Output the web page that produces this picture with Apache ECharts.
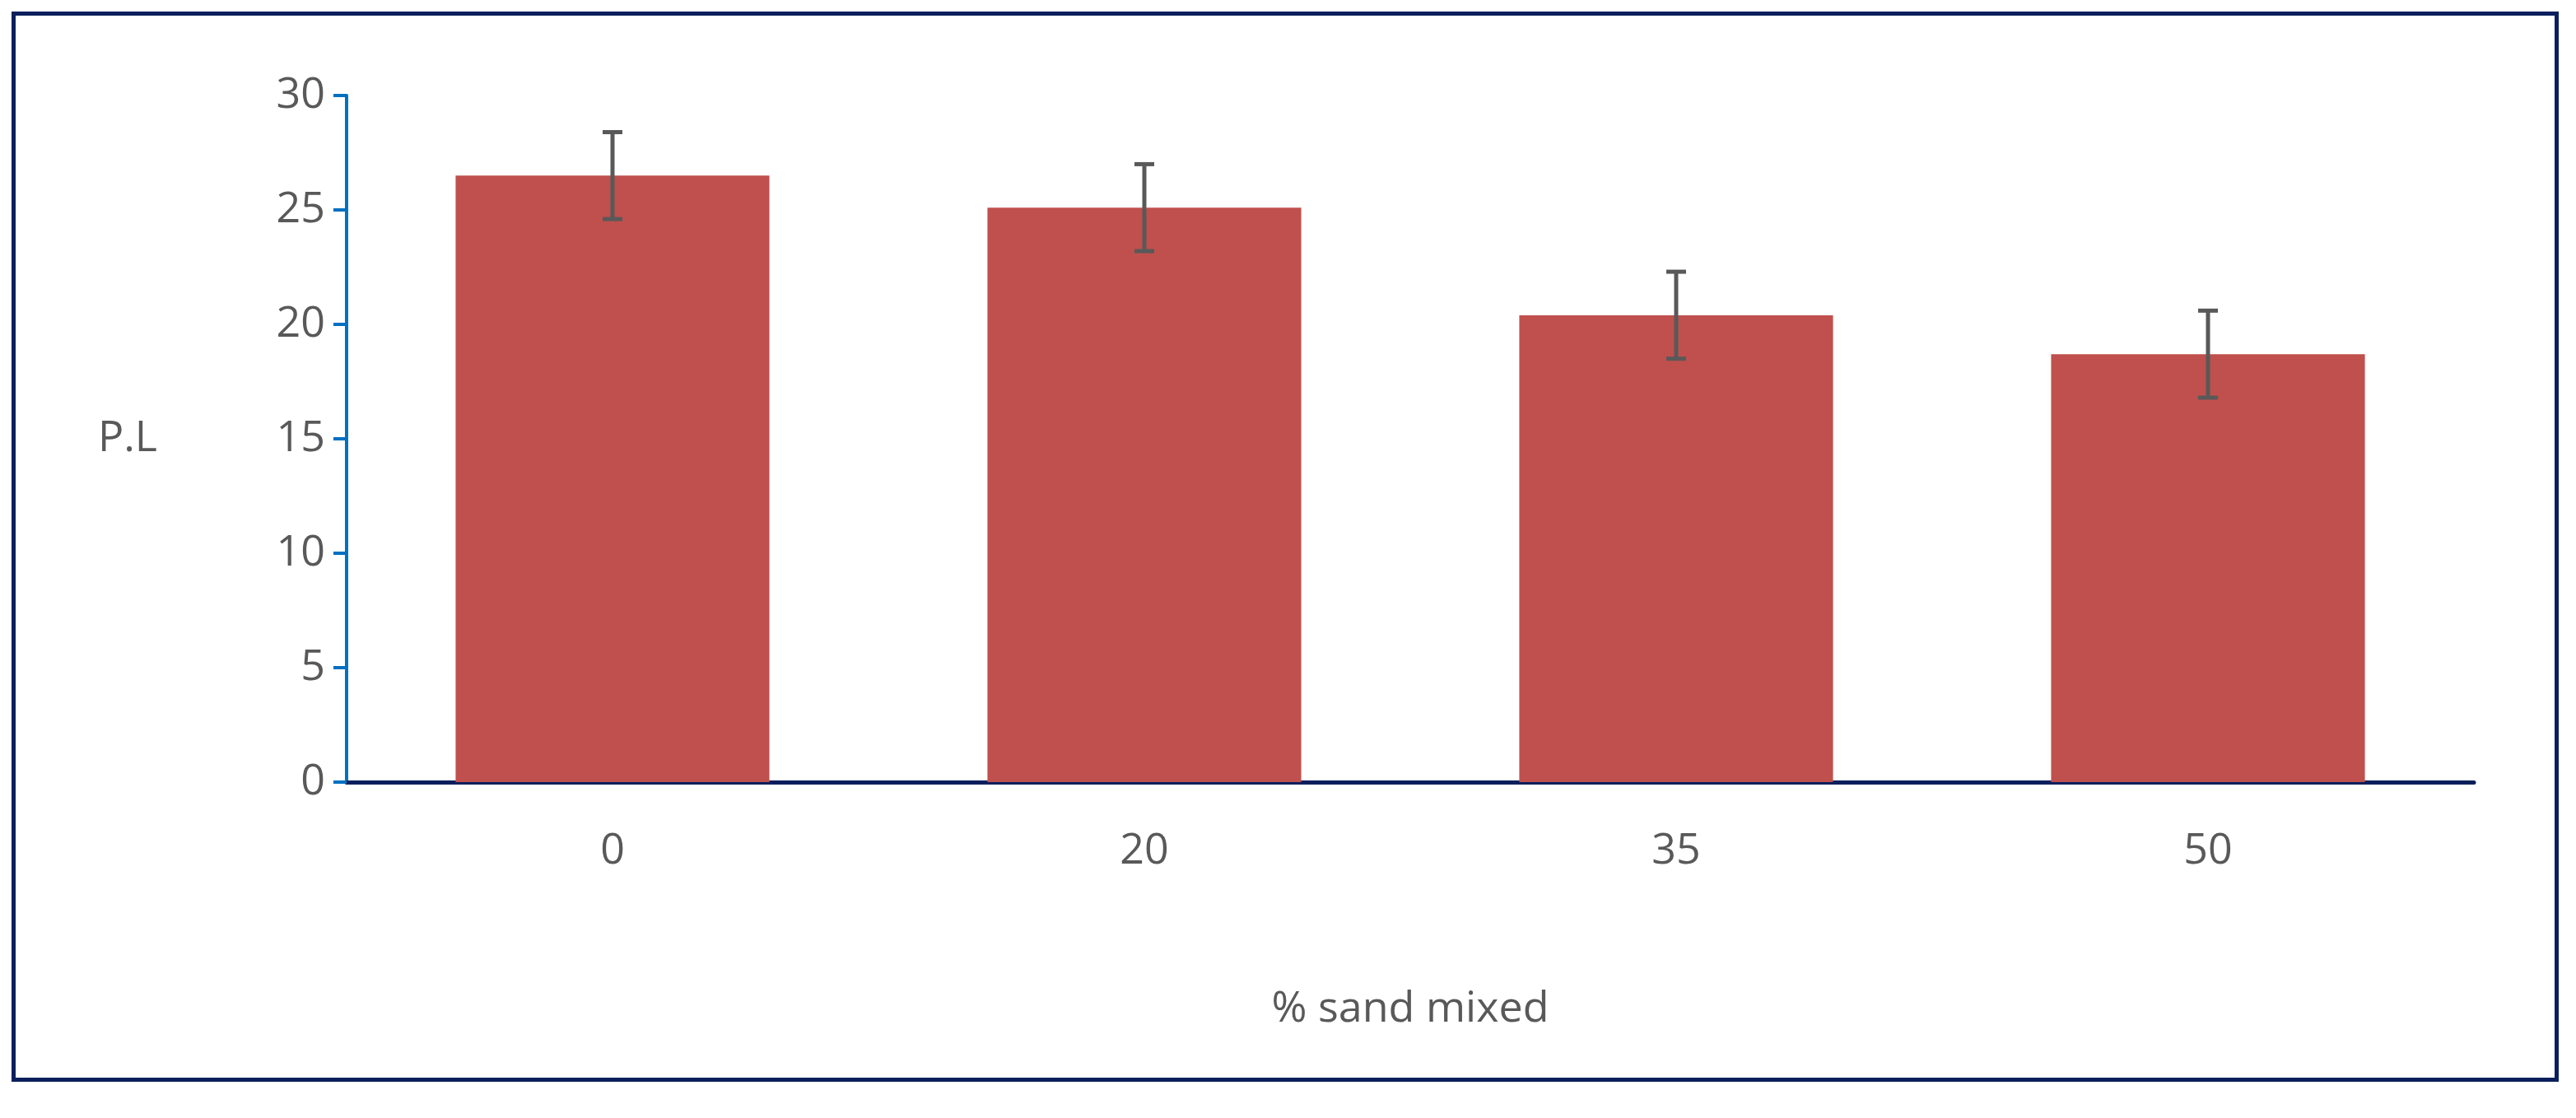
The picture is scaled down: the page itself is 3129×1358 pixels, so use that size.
<!DOCTYPE html>
<html>
<head>
<meta charset="utf-8">
<script src="https://cdn.jsdelivr.net/npm/echarts@6/dist/echarts.min.js"></script>
<style>
html,body{margin:0;padding:0;background:#fff;}
#frame{position:absolute;left:14px;top:14px;width:3094px;height:1300px;border:5px solid #0b1f5c;box-sizing:border-box;}
#chart{width:3129px;height:1358px;}
</style>
</head>
<body>
<div id="chart"></div>
<div id="frame"></div>
<script>
var categories = ['0', '20', '35', '50'];
var values = [26.5, 25.1, 20.4, 18.7];
var errLow = [24.6, 23.2, 18.5, 16.8];
var errHigh = [28.4, 27.0, 22.3, 20.6];

var chart = echarts.init(document.getElementById('chart'));
var font = '"Open Sans", "Liberation Sans", sans-serif';

var option = {
    animation: false,
    grid: { left: 421, right: 124, top: 116, bottom: 408 },
    xAxis: {
        type: 'category',
        data: categories,
        name: '% sand mixed',
        nameLocation: 'middle',
        nameGap: 250,
        nameTextStyle: { fontSize: 52, color: '#595959', fontFamily: font },
        axisLine: { lineStyle: { color: '#0b1f5c', width: 5 } },
        axisTick: { show: false },
        axisLabel: { fontSize: 52, color: '#595959', fontFamily: font, margin: 58 }
    },
    yAxis: {
        type: 'value',
        min: 0, max: 30, interval: 5,
        name: 'P.L',
        nameLocation: 'middle',
        nameRotate: 0,
        nameGap: 230,
        nameTextStyle: { fontSize: 52, color: '#595959', fontFamily: font },
        axisLine: { show: true, lineStyle: { color: '#0070c0', width: 4 } },
        axisTick: { show: true, length: 16, lineStyle: { color: '#0070c0', width: 4 } },
        splitLine: { show: false },
        axisLabel: { fontSize: 52, color: '#595959', fontFamily: font, margin: 26 }
    },
    series: [{
        type: 'bar',
        data: values,
        barWidth: '59%',
        itemStyle: { color: '#c0504d' }
    }, {
        type: 'custom',
        data: categories.map(function (c, i) { return [i, errLow[i], errHigh[i]]; }),
        z: 10,
        renderItem: function (params, api) {
            var lo = api.coord([api.value(0), api.value(1)]);
            var hi = api.coord([api.value(0), api.value(2)]);
            var w = 12;
            var st = { stroke: '#595959', lineWidth: 5 };
            return {
                type: 'group',
                children: [
                    { type: 'line', shape: { x1: hi[0], y1: hi[1], x2: lo[0], y2: lo[1] }, style: st },
                    { type: 'line', shape: { x1: hi[0] - w, y1: hi[1], x2: hi[0] + w, y2: hi[1] }, style: st },
                    { type: 'line', shape: { x1: lo[0] - w, y1: lo[1], x2: lo[0] + w, y2: lo[1] }, style: st }
                ]
            };
        }
    }]
};
chart.setOption(option);
</script>
</body>
</html>
